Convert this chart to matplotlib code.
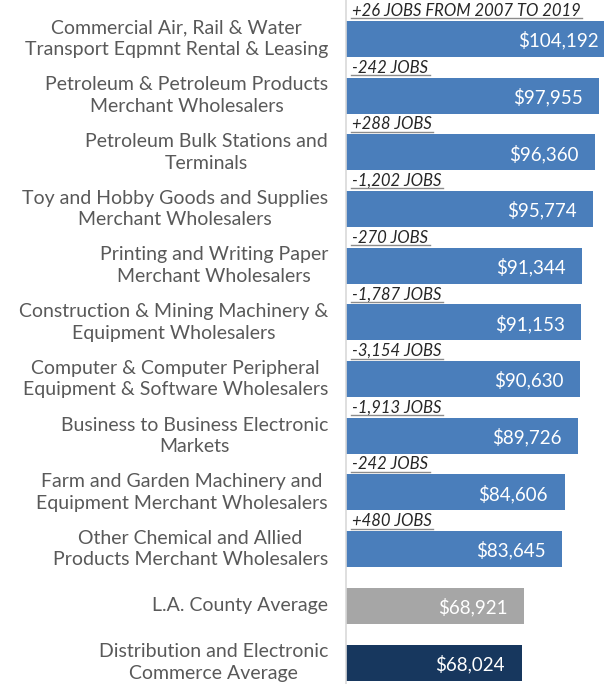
import matplotlib
matplotlib.use("Agg")
import matplotlib.pyplot as plt
from matplotlib.lines import Line2D

categories = [
    "Commercial Air, Rail & Water\nTransport Eqpmnt Rental & Leasing",
    "Petroleum & Petroleum Products\nMerchant Wholesalers",
    "Petroleum Bulk Stations and\nTerminals",
    "Toy and Hobby Goods and Supplies\nMerchant Wholesalers",
    "Printing and Writing Paper\nMerchant Wholesalers",
    "Construction & Mining Machinery &\nEquipment Wholesalers",
    "Computer & Computer Peripheral\nEquipment & Software Wholesalers",
    "Business to Business Electronic\nMarkets",
    "Farm and Garden Machinery and\nEquipment Merchant Wholesalers",
    "Other Chemical and Allied\nProducts Merchant Wholesalers",
    "L.A. County Average",
    "Distribution and Electronic\nCommerce Average",
]
wages = [104192, 97955, 96360, 95774, 91344, 91153, 90630, 89726, 84606, 83645, 68921, 68024]
value_labels = ["$104,192", "$97,955", "$96,360", "$95,774", "$91,344", "$91,153",
                "$90,630", "$89,726", "$84,606", "$83,645", "$68,921", "$68,024"]
job_notes = ["+26 JOBS FROM 2007 TO 2019", "-242 JOBS", "+288 JOBS", "-1,202 JOBS",
             "-270 JOBS", "-1,787 JOBS", "-3,154 JOBS", "-1,913 JOBS", "-242 JOBS",
             "+480 JOBS", "", ""]
colors = ["#4a7ebb"] * 10 + ["#a6a6a6", "#17375e"]

W, H = 604, 684
fig = plt.figure(figsize=(W / 100, H / 100), dpi=100)
ax_left = 346 / W
ax = fig.add_axes([ax_left, 0, 1 - ax_left, 1])

ypos = list(range(len(categories)))
ax.barh(ypos, wages, height=0.635, color=colors, zorder=2)

px_per_unit = (599 - 346) / 97955
ax.set_xlim(0, (W - 346) / px_per_unit)
pitch = 56.7
ax.set_ylim(11 + (H - 662.5) / pitch, -39 / pitch)

for s in ["top", "right", "bottom"]:
    ax.spines[s].set_visible(False)
ax.spines["left"].set_color("#d9d9d9")
ax.spines["left"].set_linewidth(1.2)
ax.set_xticks([])
ax.set_yticks([])

label_font = "Lato"
# category labels
for y, cat in zip(ypos, categories):
    ax.annotate(cat, xy=(0, y), xycoords="data", xytext=(-13, 0), textcoords="offset points",
                ha="right", va="center", multialignment="center",
                fontsize=14, color="#595959", family=label_font, linespacing=1.32)

# value labels
for y, v, lab in zip(ypos, wages, value_labels):
    ax.annotate(lab, xy=(v, y), xycoords="data", xytext=(-12, -1), textcoords="offset points",
                ha="right", va="center", fontsize=13.5, color="white", family=label_font,
                annotation_clip=False)

# job notes
note_texts = []
for y, note in zip(ypos, job_notes):
    if note:
        t = ax.annotate(note, xy=(0, y - 0.635 / 2), xycoords="data", xytext=(4, 1.5),
                        textcoords="offset points", ha="left", va="bottom",
                        fontsize=12, style="italic", color="#262626", family="Lato",
                        zorder=4)
        note_texts.append(t)

fig.canvas.draw()
r = fig.canvas.get_renderer()
for t in note_texts:
    bb = t.get_window_extent(r)
    y0 = bb.y0 + 0.5
    fig.add_artist(Line2D([bb.x0 / W - 1 / W, bb.x1 / W + 2 / W], [y0 / H, y0 / H],
                          transform=fig.transFigure, color="#8c8c8c", lw=1.0))

fig.savefig("out.png", dpi=100)
